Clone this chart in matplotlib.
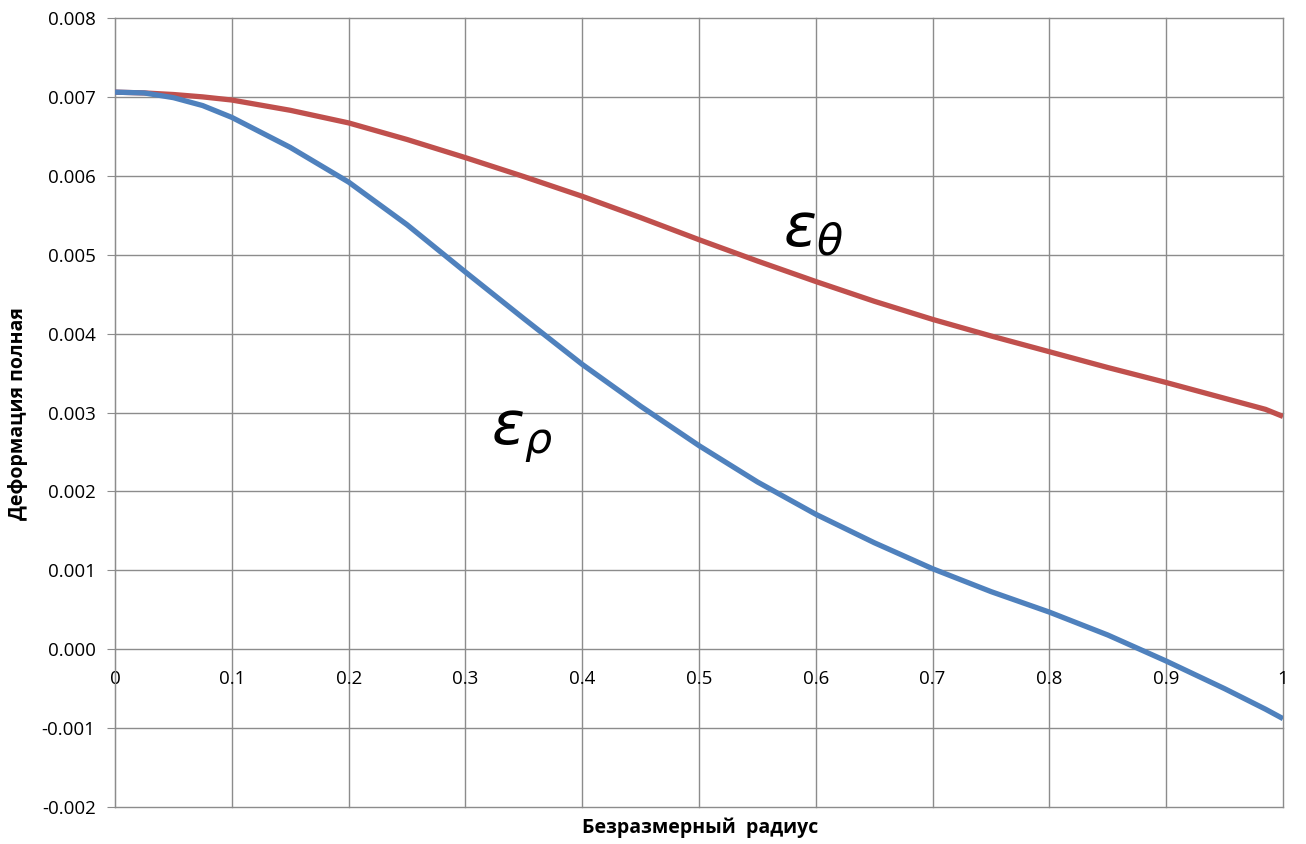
import matplotlib.pyplot as plt

# безразмерный радиус
radius = [0.0, 0.025, 0.05, 0.075, 0.1, 0.15, 0.2, 0.25, 0.3, 0.35, 0.4, 0.45, 0.5,
          0.55, 0.6, 0.65, 0.7, 0.75, 0.8, 0.85, 0.9, 0.95, 0.985, 1.0]

# окружная деформация
eps_theta = [0.00706, 0.00705, 0.00703, 0.00700, 0.00696, 0.00683, 0.00667, 0.00646,
             0.00623, 0.00599, 0.00574, 0.00547, 0.00519, 0.00492, 0.00466, 0.00441,
             0.00418, 0.00397, 0.00377, 0.00357, 0.00338, 0.00318, 0.00304, 0.00295]

# радиальная деформация
eps_rho = [0.00706, 0.00705, 0.00699, 0.00689, 0.00674, 0.00636, 0.00592, 0.00538,
           0.00478, 0.00419, 0.00361, 0.00308, 0.00258, 0.00212, 0.00171, 0.00135,
           0.00102, 0.00073, 0.00047, 0.00018, -0.00015, -0.00050, -0.00076, -0.00088]

y_ticks = [-0.002, -0.001, 0.0, 0.001, 0.002, 0.003, 0.004, 0.005, 0.006, 0.007, 0.008]
x_ticks = [0, 0.1, 0.2, 0.3, 0.4, 0.5, 0.6, 0.7, 0.8, 0.9, 1]
x_labels = ['0', '0.1', '0.2', '0.3', '0.4', '0.5', '0.6', '0.7', '0.8', '0.9', '1']

plt.rcParams['font.family'] = ['Open Sans', 'DejaVu Sans']

fig = plt.figure(figsize=(13.06, 8.44), dpi=100)
ax = fig.add_axes([0.0881, 0.0438, 0.8943, 0.9349])

# ось X проходит через ноль (до настройки делений: set_position сбрасывает их)
ax.spines['bottom'].set_position(('data', 0))
ax.spines['bottom'].set_visible(False)
ax.spines['top'].set_visible(False)
ax.spines['right'].set_visible(False)
ax.spines['left'].set_color('#8c8c8c')

ax.plot(radius, eps_theta, color='#C0504D', lw=3.8, solid_capstyle='butt', zorder=3)
ax.plot(radius, eps_rho, color='#4F81BD', lw=3.8, solid_capstyle='butt', zorder=3)

ax.set_xlim(0, 1)
ax.set_ylim(-0.002, 0.008)
ax.set_yticks(y_ticks)
ax.set_yticklabels([f'{v:.3f}' for v in y_ticks])
ax.set_xticks(x_ticks)
ax.set_xticklabels(x_labels)
ax.tick_params(axis='x', length=0, pad=15, labelsize=13.5)
ax.tick_params(axis='y', length=6, color='#8c8c8c', pad=8, labelsize=13.5)

ax.grid(True, color='#8c8c8c', lw=1.0)
ax.set_axisbelow(True)
for gl in ax.get_xgridlines() + ax.get_ygridlines():
    gl.set_clip_on(False)

ax.text(0.572, 0.0053, r'$\varepsilon_\theta$', fontsize=44, va='center', ha='left')
ax.text(0.322, 0.00272, r'$\varepsilon_\rho$', fontsize=44, va='center', ha='left')

fig.text(0.536, 0.019, 'Безразмерный  радиус', fontsize=14, fontweight='bold',
         ha='center', va='center')
fig.text(0.014, 0.51, 'Деформация полная', fontsize=14, fontweight='bold',
         ha='center', va='center', rotation=90)

fig.savefig('out.png', dpi=100)
